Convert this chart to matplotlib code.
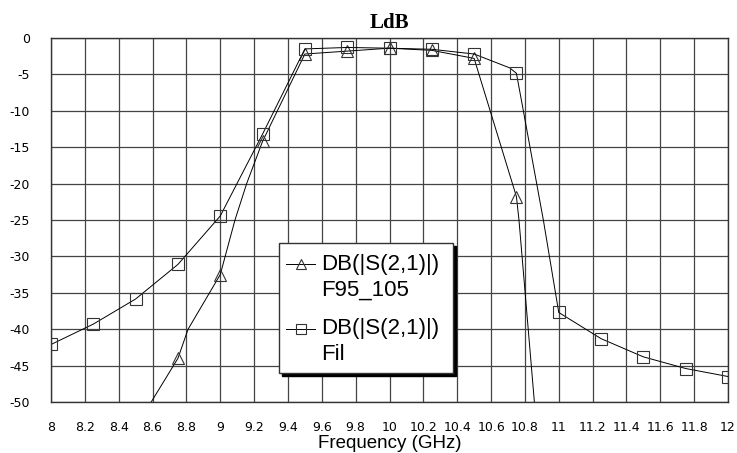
import numpy as np
import matplotlib
matplotlib.use("Agg")
from matplotlib import pyplot as plt
from matplotlib.patches import Rectangle
from matplotlib.lines import Line2D

#%% # Data (frequency in GHz, DB(|S(2,1)|) in dB)

f95_freq = [8.5, 8.75, 8.81, 9.0, 9.087, 9.156, 9.25, 9.5, 9.75, 10.0, 10.25,
            10.5, 10.75, 10.765, 10.856, 10.9]
f95_db = [-53.5, -44.0, -40.0, -32.5, -25.0, -20.0, -14.2, -2.2, -1.8, -1.4, -1.7,
          -2.8, -21.8, -25.0, -50.0, -62.0]

fil_freq = [8.0, 8.25, 8.5, 8.75, 9.0, 9.25, 9.5, 9.75, 10.0, 10.25, 10.5, 10.71,
            10.75, 10.79, 10.909, 11.0, 11.25, 11.5, 11.75, 12.0]
fil_db = [-42.1, -39.3, -35.85, -31.1, -24.45, -13.2, -1.5, -1.3, -1.4, -1.55, -2.2, -4.1,
          -4.85, -9.9, -25.0, -37.7, -41.3, -43.8, -45.4, -46.5]

labels = ["DB(|S(2,1)|)\nF95_105", "DB(|S(2,1)|)\nFil"]
xticks = np.round(np.arange(8, 12.01, 0.2), 1)
yticks = np.arange(-50, 1, 5)

plt.rcParams["axes.unicode_minus"] = False

W, H = 737, 453


def px(x, y):
    # figure pixel (from top-left) -> figure fraction
    return x / W, 1 - y / H


def on_marker_grid(freq):
    # markers only every 0.25 GHz, like the simulator output
    f = np.asarray(freq) * 4
    return np.isclose(f, np.round(f))


#%% # Plot

fig = plt.figure(figsize=(W / 100, H / 100), dpi=100)
ax = fig.add_axes([51 / W, 1 - 402 / H, 677 / W, 364 / H])

style = dict(color="k", lw=0.7, ms=8, mfc="none", mec="#333333", mew=0.8)
ax.plot(f95_freq, f95_db, marker="^", markevery=list(on_marker_grid(f95_freq)),
        **style)
ax.plot(fil_freq, fil_db, marker="s", markevery=list(on_marker_grid(fil_freq)),
        **style)

ax.set_xlim(8, 12)
ax.set_ylim(-50, 0)
ax.set_xticks(xticks)
ax.set_xticklabels(["%g" % x for x in xticks])
ax.set_yticks(yticks)
ax.tick_params(length=0, labelsize=9, pad=15)
ax.tick_params(axis="x", pad=14)
for lab in ax.get_xticklabels() + ax.get_yticklabels():
    lab.set_family("DejaVu Sans")

ax.grid(True, color="#444444", lw=0.9)
for sp in ax.spines.values():
    sp.set_color("#333333")
    sp.set_linewidth(1)

ax.set_title("LdB", fontfamily="Liberation Serif", fontweight="bold",
             fontsize=15, pad=7)
ax.set_xlabel("Frequency (GHz)", fontfamily="Liberation Sans", fontsize=13.5,
              va="baseline")
ax.xaxis.set_label_coords(0.5, (402 - 448) / 364)

# Legend box drawn by hand so the handle sits on the first label line
x0, y0 = px(279, 373)
x1, y1 = px(453, 243)
fig.patches.append(Rectangle((x0 + 3 / W, y0 - 3 / H), x1 - x0, y1 - y0,
                             transform=fig.transFigure, facecolor="k",
                             edgecolor="k", zorder=5))
fig.patches.append(Rectangle((x0, y0), x1 - x0, y1 - y0,
                             transform=fig.transFigure, facecolor="white",
                             edgecolor="#333333", lw=1, zorder=6))

handle_y = [263.5, 328.5]
text_base = [(270, 296), (334, 359.5)]
markers = ["^", "s"]
for lab, hy, (b1, b2), mk in zip(labels, handle_y, text_base, markers):
    hx0, hy0 = px(286, hy)
    hx1, _ = px(315, hy)
    fig.lines.append(Line2D([hx0, hx1], [hy0, hy0], transform=fig.transFigure,
                            color="k", lw=0.7, zorder=7))
    fig.lines.append(Line2D([(hx0 + hx1) / 2], [hy0], transform=fig.transFigure,
                            marker=mk, ms=7, mfc="none", mec="#333333", mew=0.8,
                            zorder=7))
    line1, line2 = lab.split("\n")
    for txt, b in [(line1, b1), (line2, b2)]:
        tx, ty = px(321.5, b)
        fig.text(tx, ty, txt, fontfamily="Liberation Sans", fontsize=16,
                 va="baseline", ha="left", zorder=8)

plt.savefig("out.png")
